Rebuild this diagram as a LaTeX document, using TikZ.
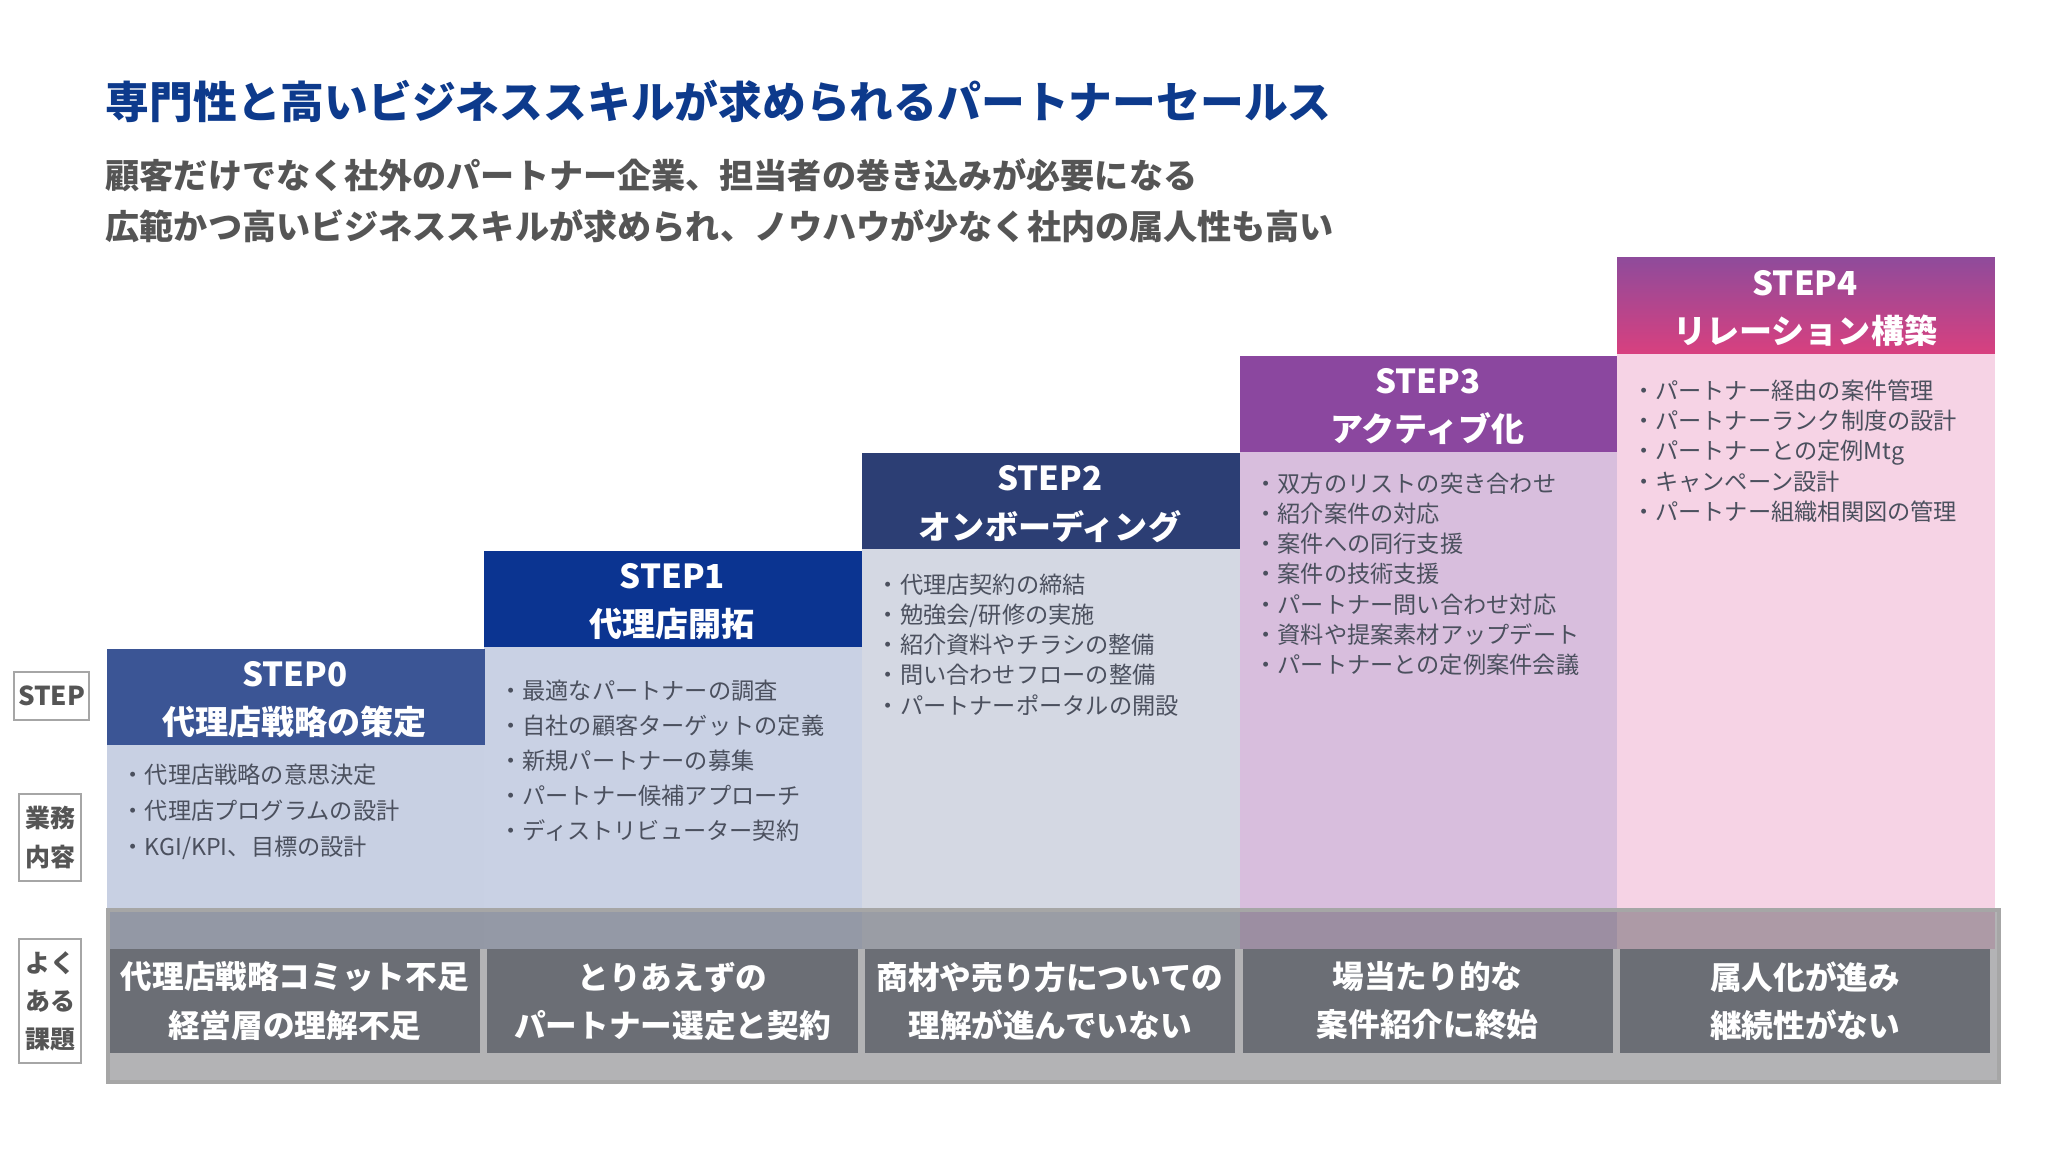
\documentclass[tikz,border=0pt]{standalone}
\usepackage{fontspec}
\setmainfont{Noto Sans CJK JP}
\usepackage{xcolor}
\definecolor{titleColor}{RGB}{13, 58, 140}
\definecolor{subColor}{RGB}{85, 85, 85}
\definecolor{headZero}{RGB}{59, 85, 149}
\definecolor{headOne}{RGB}{11, 52, 145}
\definecolor{headTwo}{RGB}{44, 62, 116}
\definecolor{headThree}{RGB}{139, 71, 159}
\definecolor{headFourTop}{RGB}{143, 75, 155}
\definecolor{headFourBot}{RGB}{216, 64, 127}
\definecolor{bodyZero}{RGB}{200, 208, 227}
\definecolor{bodyOne}{RGB}{201, 209, 228}
\definecolor{bodyTwo}{RGB}{212, 216, 227}
\definecolor{bodyThree}{RGB}{216, 190, 221}
\definecolor{bodyFour}{RGB}{246, 211, 229}
\definecolor{bulletColor}{RGB}{75, 80, 94}
\definecolor{issueColor}{RGB}{107, 110, 117}
\definecolor{bandColor}{RGB}{79, 80, 85}
\definecolor{labelColor}{RGB}{85, 85, 85}

\tikzset{
  stepbody/.style={rectangle, anchor=north west, inner sep=0, minimum width=3.776cm},
  stephead/.style={rectangle, anchor=north west, inner sep=0, minimum width=3.776cm, minimum height=0.96cm},
  headtext/.style={text=white, inner sep=0, font=\fontsize{9.4}{11}\selectfont\bfseries},
  bulletlist/.style={anchor=north west, inner sep=0, align=left, text=bulletColor},
  issuebox/.style={rectangle, fill=issueColor, text=white, inner sep=0, align=center,
    minimum width=3.70cm, minimum height=1.04cm, font=\fontsize{9}{13.66}\selectfont\bfseries},
  sidelabel/.style={rectangle, draw=gray!70, line width=0.8pt, fill=white, text=labelColor,
    inner sep=0, align=center, font=\fontsize{7.1}{11}\selectfont\bfseries}
}

\begin{document}
\begin{tikzpicture}[x=0.01cm, y=-0.01cm]
    \useasboundingbox (0,0) rectangle (2048,1152);
    \fill[white] (0,0) rectangle (2048,1152);

    % Title
    \node[anchor=west, inner sep=0, text=titleColor, font=\fontsize{12.45}{15}\selectfont\bfseries] (title) at (105,101) {専門性と高いビジネススキルが求められるパートナーセールス};
    \node[anchor=west, inner sep=0, text=subColor, font=\fontsize{9.7}{12}\selectfont\bfseries] (sub1) at (105,175) {顧客だけでなく社外のパートナー企業、担当者の巻き込みが必要になる};
    \node[anchor=west, inner sep=0, text=subColor, font=\fontsize{9.7}{12}\selectfont\bfseries] (sub2) at (105,226) {広範かつ高いビジネススキルが求められ、ノウハウが少なく社内の属人性も高い};

    % Step bodies
    \node[stepbody, fill=bodyZero, minimum height=2.04cm] (body0) at (106,744) {};
    \node[stepbody, fill=bodyOne, minimum height=3.02cm] (body1) at (483.6,646) {};
    \node[stepbody, fill=bodyTwo, minimum height=3.995cm] (body2) at (861.2,548.5) {};
    \node[stepbody, fill=bodyThree, minimum height=4.97cm] (body3) at (1238.8,451) {};
    \node[stepbody, fill=bodyFour, minimum height=5.95cm] (body4) at (1616.4,353) {};

    % Step headers
    \node[stephead, fill=headZero] (head0) at (106,648) {};
    \node[stephead, fill=headOne] (head1) at (483.6,550) {};
    \node[stephead, fill=headTwo] (head2) at (861.2,452.5) {};
    \node[stephead, fill=headThree] (head3) at (1238.8,355) {};
    \node[stephead, top color=headFourTop, bottom color=headFourBot] (head4) at (1616.4,257) {};

    \node[headtext] (t0a) at (294.8,674) {STEP0};
    \node[headtext] (t0b) at (294.8,722) {代理店戦略の策定};
    \node[headtext] (t1a) at (672.4,576) {STEP1};
    \node[headtext] (t1b) at (672.4,624) {代理店開拓};
    \node[headtext] (t2a) at (1050,478.5) {STEP2};
    \node[headtext] (t2b) at (1050,526.5) {オンボーディング};
    \node[headtext] (t3a) at (1427.6,381) {STEP3};
    \node[headtext] (t3b) at (1427.6,429) {アクティブ化};
    \node[headtext] (t4a) at (1805.2,283) {STEP4};
    \node[headtext] (t4b) at (1805.2,331) {リレーション構築};

    % Work items
    \node[bulletlist, font=\fontsize{6.6}{10.24}\selectfont] (list0) at (121,763) {・代理店戦略の意思決定\\・代理店プログラムの設計\\・KGI/KPI、目標の設計};
    \node[bulletlist, font=\fontsize{6.6}{10.0}\selectfont] (list1) at (498.6,679) {・最適なパートナーの調査\\・自社の顧客ターゲットの定義\\・新規パートナーの募集\\・パートナー候補アプローチ\\・ディストリビューター契約};
    \node[bulletlist, font=\fontsize{6.6}{8.6}\selectfont] (list2) at (876.2,573) {・代理店契約の締結\\・勉強会/研修の実施\\・紹介資料やチラシの整備\\・問い合わせフローの整備\\・パートナーポータルの開設};
    \node[bulletlist, font=\fontsize{6.6}{8.6}\selectfont] (list3) at (1253.8,472) {・双方のリストの突き合わせ\\・紹介案件の対応\\・案件への同行支援\\・案件の技術支援\\・パートナー問い合わせ対応\\・資料や提案素材アップデート\\・パートナーとの定例案件会議};
    \node[bulletlist, font=\fontsize{6.6}{8.6}\selectfont] (list4) at (1631.4,379) {・パートナー経由の案件管理\\・パートナーランク制度の設計\\・パートナーとの定例Mtg\\・キャンペーン設計\\・パートナー組織相関図の管理};

    % Issue band
    \node[rectangle, anchor=north west, inner sep=0, minimum width=18.9cm, minimum height=1.72cm, fill=bandColor, fill opacity=0.43, draw=black!35, line width=1pt] (band) at (106,908) {};
    \node[issuebox] (issue0) at (294.8,1001) {代理店戦略コミット不足\\経営層の理解不足};
    \node[issuebox] (issue1) at (672.4,1001) {とりあえずの\\パートナー選定と契約};
    \node[issuebox] (issue2) at (1050,1001) {商材や売り方についての\\理解が進んでいない};
    \node[issuebox] (issue3) at (1427.6,1001) {場当たり的な\\案件紹介に終始};
    \node[issuebox] (issue4) at (1805.2,1001) {属人化が進み\\継続性がない};

    % Row labels
    \node[sidelabel, minimum width=0.75cm, minimum height=0.48cm, font=\fontsize{7.4}{11}\selectfont\bfseries] (lstep) at (51.5,696) {STEP};
    \node[sidelabel, minimum width=0.62cm, minimum height=0.87cm, font=\fontsize{7.1}{11.1}\selectfont\bfseries] (lwork) at (50,837.5) {業務\\内容};
    \node[sidelabel, minimum width=0.62cm, minimum height=1.24cm, font=\fontsize{7.1}{10.8}\selectfont\bfseries] (lissue) at (50,1001) {よく\\ある\\課題};
\end{tikzpicture}
\end{document}
